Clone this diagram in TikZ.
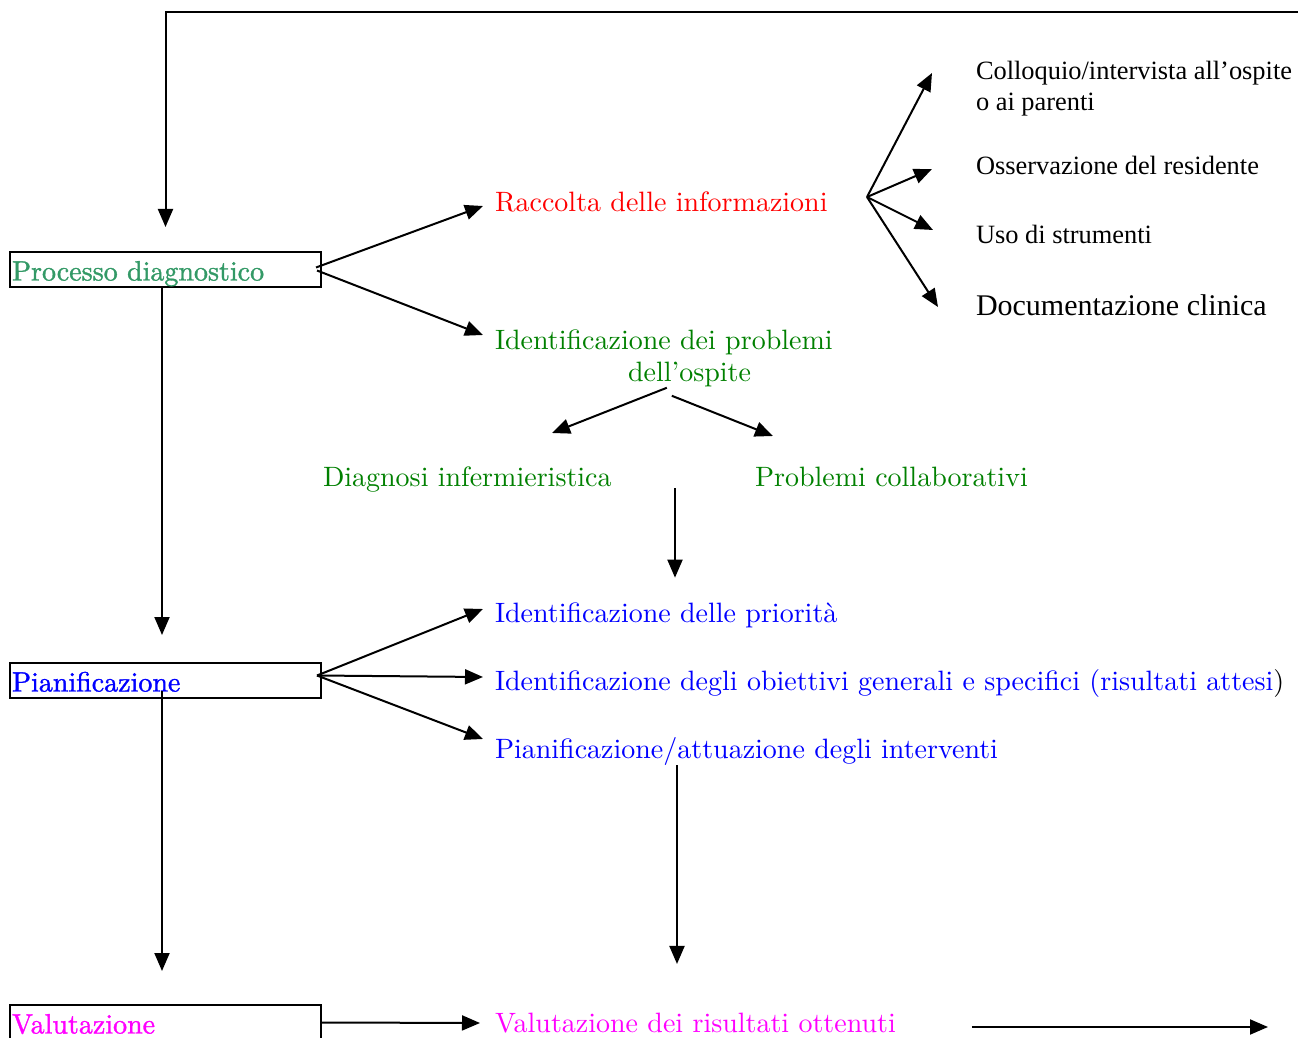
\documentclass[tikz,border=0pt]{standalone}
\usepackage{fontspec}
\newfontfamily\lmten{lmroman10-regular.otf}
\newfontfamily\boxfont{lmroman10-regular.otf}[FakeBold=1.2]
\newfontfamily\timesfont{Liberation Serif}
\usepackage{color}
\definecolor{myseagreen}{RGB}{51,153,102}
\definecolor{mygreen}{RGB}{0,128,0}
\definecolor{myred}{RGB}{255,0,0}
\definecolor{myblue}{RGB}{0,0,255}
\definecolor{mymagenta}{RGB}{255,0,255}
\usepackage{tikz}
\usetikzlibrary{arrows.meta,positioning,calc}
\tikzstyle{phase}=[draw,line width=1pt,minimum width=155.5pt,minimum height=17.5pt,inner xsep=1pt,inner ysep=0pt,text width=153.5pt,align=left,text height=12.5pt,text depth=1.5pt,font=\boxfont\fontsize{14}{16}\selectfont]
\tikzstyle{txt}=[anchor=base west,inner sep=0pt,font=\lmten\fontsize{14}{16}\selectfont]
\tikzstyle{sub}=[anchor=base west,inner sep=0pt,font=\timesfont\fontsize{13.2}{15.5}\selectfont]
\tikzstyle{subbig}=[sub,font=\timesfont\fontsize{15}{17}\selectfont]

\begin{document}
\begin{tikzpicture}[x=0.5pt,y=-0.5pt,line width=1pt,>={Triangle[length=9pt,width=7.5pt]}]
\useasboundingbox (0,0) rectangle (1298,1038);
% fasi
\draw (165.5,269.5) node [phase, text=myseagreen] (proc) {Processo diagnostico};
\draw (165.5,680.5) node [phase, text=myblue] (pian) {Pianificazione};
\draw (165.5,1022.5) node [phase, text=mymagenta] (valu) {Valutazione};
% testi
\draw (494,212) node [txt, text=myred] (racc) {Raccolta delle informazioni};
\draw (494,328.6) node [txt, anchor=north west, align=left, text=mygreen] (ident) {Identificazione dei problemi\\\hspace*{66.5pt}dell’ospite};
\draw (322,486) node [txt, text=mygreen] (diagn) {Diagnosi infermieristica};
\draw (754,486) node [txt, text=mygreen] (collab) {Problemi collaborativi};
\draw (494,622) node [txt, text=myblue] (prior) {Identificazione delle priorità};
\draw (494,690) node [txt, text=myblue] (obiet) {Identificazione degli obiettivi generali e specifici (risultati attesi\textcolor{black}{)}};
\draw (494,758) node [txt, text=myblue] (interv) {Pianificazione/attuazione degli interventi};
\draw (494,1032) node [txt, text=mymagenta] (risult) {Valutazione dei risultati ottenuti};
\draw (975,60) node [sub, anchor=north west, align=left] (colloq) {Colloquio/intervista all’ospite\\o ai parenti};
\draw (975,175) node [sub] (osserv) {Osservazione del residente};
\draw (975,244) node [sub] (strum) {Uso di strumenti};
\draw (975,315) node [subbig] (docum) {Documentazione clinica};
% punti liberi
\coordinate (tl) at (165.5,12);
\coordinate (tr) at (1298,12);
\coordinate (fan) at (867,197);
\coordinate (dtip) at (552,433);
\coordinate (ctip) at (773,436);
\coordinate (ptop) at (675,488);
\coordinate (itop) at (677,765);
\coordinate (out) at (1268,1027);
% frecce
\draw[->,shorten >=12pt] (tr) -- (tl) -- (proc.north);
\draw[->,shorten >=13.5pt] ([xshift=-1.75pt]proc.south) -- ([xshift=-1.75pt]pian.north);
\draw[->,shorten >=16.5pt] ([xshift=-1.75pt,yshift=4pt]pian.south) -- ([xshift=-1.75pt]valu.north);
\draw[->] ([xshift=-3pt,yshift=1pt]proc.east) -- ([xshift=-5.5pt,yshift=3pt]racc.base west);
\draw[->] ([xshift=-2.5pt,yshift=-0.5pt]proc.east) -- ([xshift=-5.5pt,yshift=-3.2pt]ident.north west);
\draw[->] (fan) -- ([xshift=-21.5pt,yshift=-6.5pt]colloq.north west);
\draw[->] (fan) -- ([xshift=-21.5pt,yshift=3pt]osserv.base west);
\draw[->] (fan) -- ([xshift=-21pt,yshift=7pt]strum.base west);
\draw[->] (fan) -- ([xshift=-18.5pt,yshift=4pt]docum.base west);
\draw[->] ([xshift=1.5pt]ident.south) -- (dtip);
\draw[->] ([xshift=4pt,yshift=-4pt]ident.south) -- (ctip);
\draw[->,shorten >=11.8pt] (ptop) -- (ptop |- prior.north);
\draw[->] ([xshift=-2.5pt,yshift=2.5pt]pian.east) -- ([xshift=-5.5pt,yshift=6.5pt]prior.base west);
\draw[->] ([xshift=-2.5pt,yshift=2.5pt]pian.east) -- ([xshift=-5.5pt,yshift=6.5pt]obiet.base west);
\draw[->] ([xshift=-2.5pt,yshift=2.5pt]pian.east) -- ([xshift=-5.5pt,yshift=9.5pt]interv.base west);
\draw[->,shorten >=23.8pt] (itop) -- (itop |- risult.north);
\draw[->] (valu.east) -- ([xshift=-7pt,yshift=4.5pt]risult.base west);
\draw[->] ([xshift=37.5pt,yshift=2.5pt]risult.base east) -- (out);
\end{tikzpicture}
\end{document}
